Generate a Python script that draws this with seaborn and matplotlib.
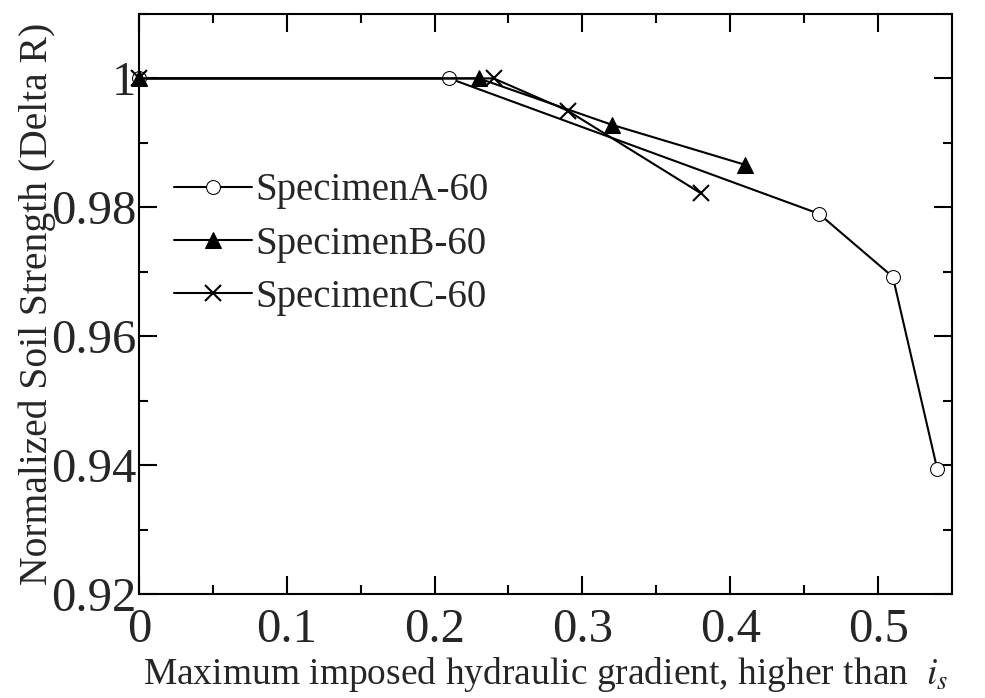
import matplotlib
matplotlib.use("Agg")
import matplotlib.pyplot as plt
import pandas as pd
import seaborn as sns

# Values.
specimen_a_x = [0.0, 0.21, 0.46, 0.51, 0.54]
specimen_a_y = [1.0, 1.0, 0.9790, 0.9692, 0.9394]
specimen_b_x = [0.0, 0.23, 0.32, 0.41]
specimen_b_y = [1.0, 1.0, 0.9928, 0.9866]
specimen_c_x = [0.0, 0.24, 0.29, 0.38]
specimen_c_y = [1.0, 1.0, 0.9950, 0.9822]

x_ticks = [0.0, 0.1, 0.2, 0.3, 0.4, 0.5]
x_tick_labels = ["0", "0.1", "0.2", "0.3", "0.4", "0.5"]
y_ticks = [0.92, 0.94, 0.96, 0.98, 1.0]
y_tick_labels = ["0.92", "0.94", "0.96", "0.98", "1"]

sns.set_theme(style="ticks")
plt.rcParams["font.family"] = ["Liberation Serif", "DejaVu Serif"]
plt.rcParams["mathtext.fontset"] = "stix"

fig = plt.figure(figsize=(9.85, 6.98), dpi=100)
ax = fig.add_axes([0.141, 0.149, 0.8255, 0.831])

series = [
    ("SpecimenA-60", specimen_a_x, specimen_a_y,
     dict(marker="o", markersize=10, markerfacecolor="white")),
    ("SpecimenB-60", specimen_b_x, specimen_b_y,
     dict(marker="^", markersize=12, markerfacecolor="black")),
    ("SpecimenC-60", specimen_c_x, specimen_c_y,
     dict(marker="x", markersize=12, markeredgewidth=1.5)),
]

for name, xs, ys, style in series:
    df = pd.DataFrame({"x": xs, "y": ys})
    sns.lineplot(
        data=df, x="x", y="y", ax=ax, color="black", linewidth=1.5,
        markeredgecolor="black", label=name, clip_on=False,
        sort=False, **style,
    )

ax.set_xlim(0, 0.55)
ax.set_ylim(0.92, 1.01)
ax.set_xticks(x_ticks)
ax.set_xticklabels(x_tick_labels)
ax.set_yticks(y_ticks)
ax.set_yticklabels(y_tick_labels)
ax.set_xticks([0.05, 0.15, 0.25, 0.35, 0.45], minor=True)
ax.set_yticks([0.93, 0.95, 0.97, 0.99, 1.01], minor=True)
ax.tick_params(which="both", direction="in", top=True, right=True,
               width=1.5, color="black", labelsize=35)
ax.tick_params(axis="x", which="major", pad=10)
ax.tick_params(axis="y", which="major", pad=2)
ax.tick_params(which="major", length=13)
ax.tick_params(which="minor", length=6.5)
for spine in ax.spines.values():
    spine.set_linewidth(1.5)
    spine.set_color("black")

ax.set_xlabel("Maximum imposed hydraulic gradient, higher than  $i_s$",
              fontsize=27, labelpad=2)
ax.set_ylabel("Normalized Soil Strength (Delta R)", fontsize=28.5, labelpad=-4)

ax.legend(loc="upper left", bbox_to_anchor=(0.01, 0.774), frameon=False,
          fontsize=28, handlelength=2.0, handletextpad=0.08,
          labelspacing=0.42, borderaxespad=0.3)

fig.savefig("out.png", dpi=100)
plt.close(fig)
